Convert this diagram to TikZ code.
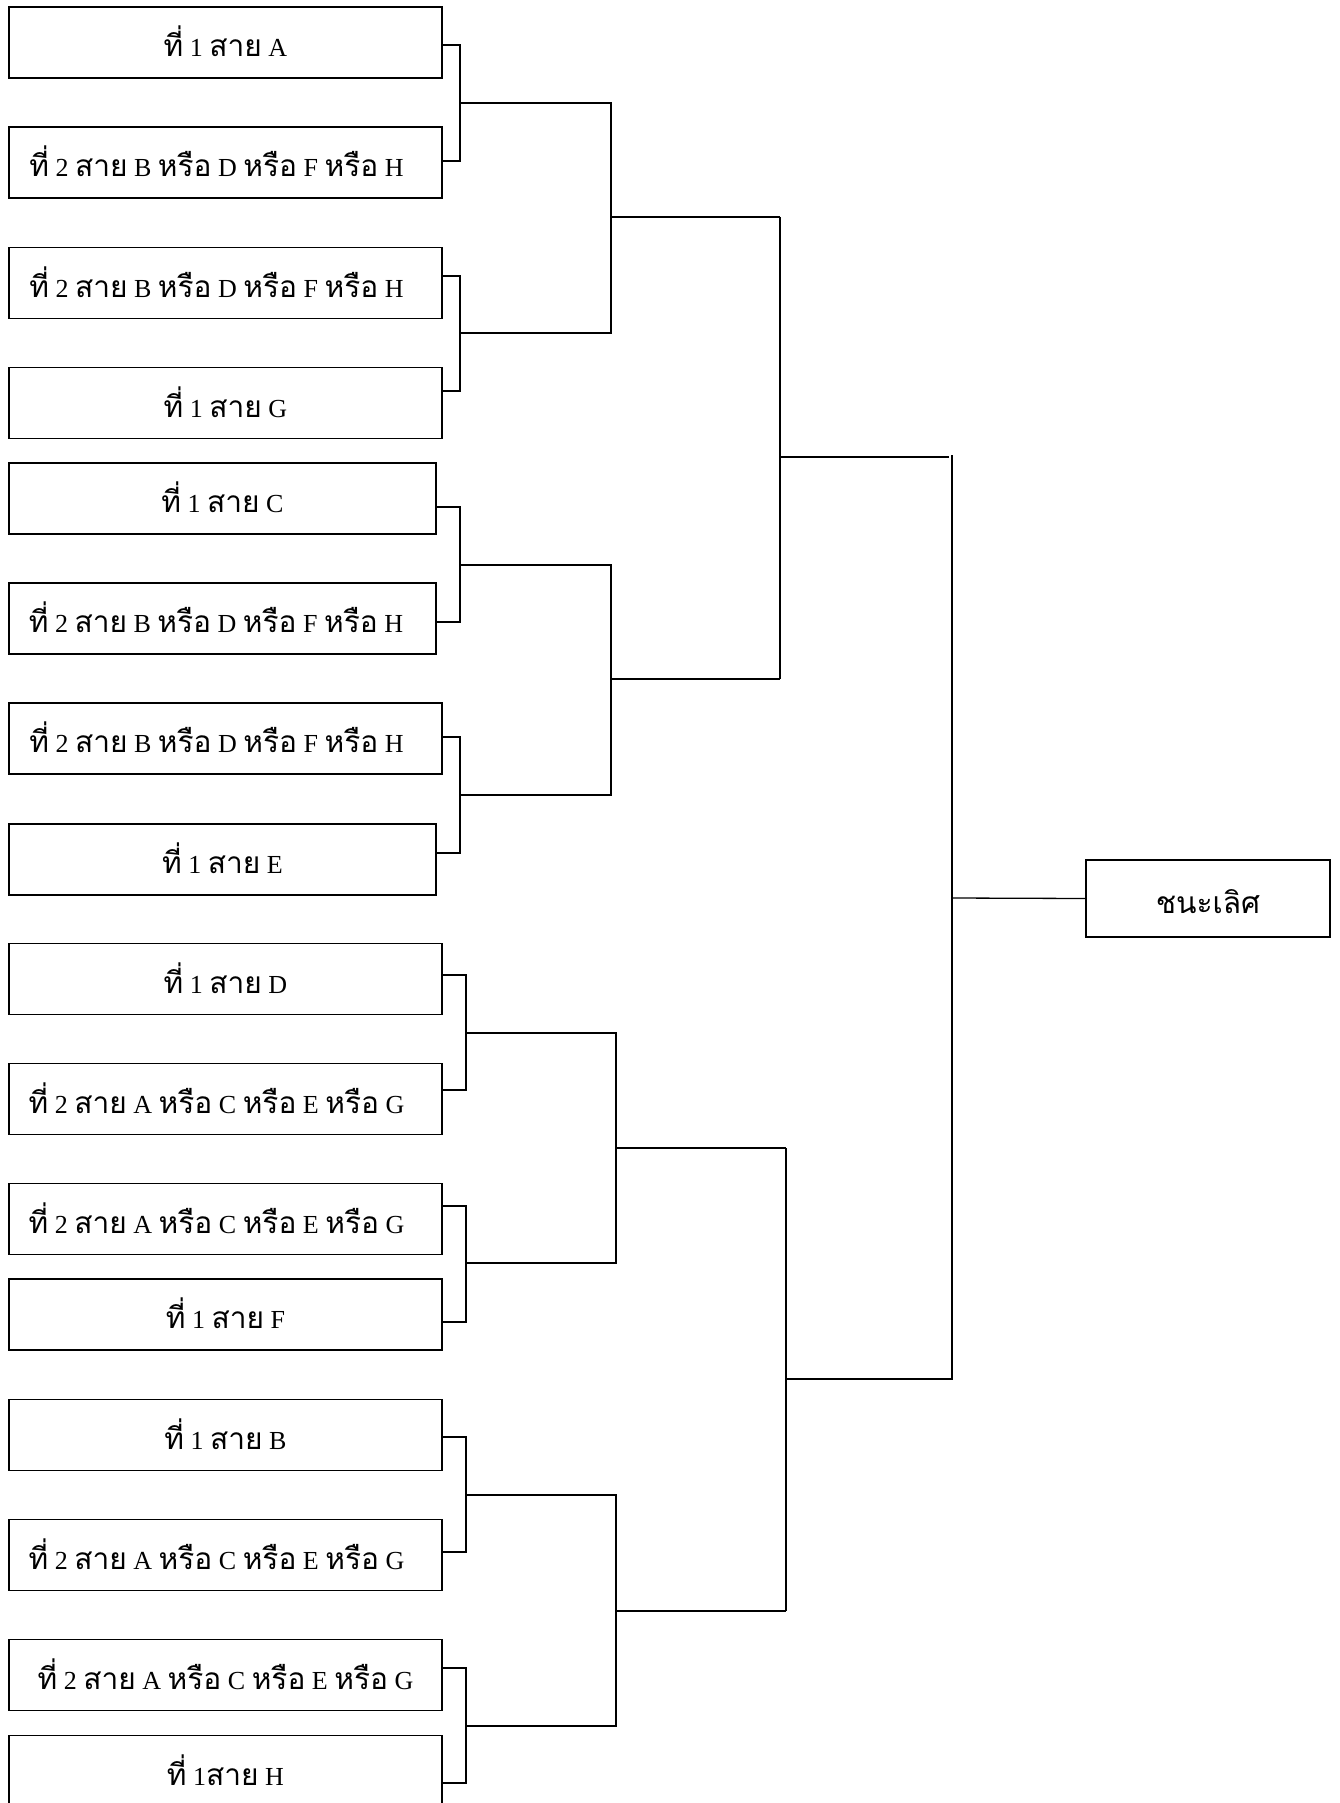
\documentclass[tikz,border=0pt]{standalone}
\usepackage{fontspec}
\setmainfont{Liberation Serif}
\newfontfamily\thai[Script=Thai,Scale=1.15]{Loma}
\newcommand\Pone[1]{{\thai ที่} 1 {\thai สาย} #1}
\newcommand\Ptwo[4]{{\thai ที่} 2 {\thai สาย} #1 {\thai หรือ} #2 {\thai หรือ} #3 {\thai หรือ} #4}
\begin{document}
\begin{tikzpicture}[x=1pt,y=-1pt,
  box/.style={draw, line width=1.5pt, minimum height=71pt, inner sep=0pt,
    text height=30pt, text depth=2pt, font=\fontsize{26}{30}\selectfont},
  wbox/.style={box, minimum width=433pt},
  nbox/.style={box, minimum width=427pt},
  wire/.style={line width=1.3pt}]
\useasboundingbox[fill=white] (0,0) rectangle (1340,1803);
% first round boxes
\node[wbox] (b1)  at (225.5,42.5)  {\Pone{A}};
\node[wbox] (b2)  at (225.5,162.5) {\Ptwo{B}{D}{F}{H}\kern18pt};
\node[wbox] (b3)  at (225.5,283)   {\Ptwo{B}{D}{F}{H}\kern18pt};
\node[wbox] (b4)  at (225.5,403)   {\Pone{G}};
\node[nbox] (b5)  at (222.5,498.5) {\Pone{C}};
\node[nbox] (b6)  at (222.5,618.5) {\Ptwo{B}{D}{F}{H}\kern13pt};
\node[wbox] (b7)  at (225.5,738.5) {\Ptwo{B}{D}{F}{H}\kern18pt};
\node[nbox] (b8)  at (222.5,859.5) {\Pone{E}};
\node[wbox] (b9)  at (225.5,979)   {\Pone{D}};
\node[wbox] (b10) at (225.5,1099)  {\Ptwo{A}{C}{E}{G}\kern18pt};
\node[wbox] (b11) at (225.5,1219)  {\Ptwo{A}{C}{E}{G}\kern18pt};
\node[wbox] (b12) at (225.5,1314.5){\Pone{F}};
\node[wbox] (b13) at (225.5,1435)  {\Pone{B}};
\node[wbox] (b14) at (225.5,1555)  {\Ptwo{A}{C}{E}{G}\kern18pt};
\node[wbox] (b15) at (225.5,1675)  {\Ptwo{A}{C}{E}{G}};
\node[wbox] (b16) at (225.5,1771)  {{\thai ที่} 1{\thai สาย} H};
% champion
\node[box, minimum width=244pt, minimum height=77pt, text height=32pt] (champ) at (1208,898.5) {\thai ชนะเลิศ};
% junction coordinates
\coordinate (j1) at (460,103);  \coordinate (j2) at (460,333);
\coordinate (j3) at (460,565);  \coordinate (j4) at (460,795);
\coordinate (j5) at (466,1033); \coordinate (j6) at (466,1263);
\coordinate (j7) at (466,1495); \coordinate (j8) at (466,1726);
\coordinate (k1) at (611,103);  \coordinate (k2) at (611,333);
\coordinate (k3) at (611,565);  \coordinate (k4) at (611,795);
\coordinate (k5) at (616,1033); \coordinate (k6) at (616,1263);
\coordinate (k7) at (616,1495); \coordinate (k8) at (616,1726);
\coordinate (m1) at (611,217);  \coordinate (n1) at (780,217);
\coordinate (m2) at (611,679);  \coordinate (n2) at (780,679);
\coordinate (m3) at (616,1148); \coordinate (n3) at (786,1148);
\coordinate (m4) at (616,1611); \coordinate (n4) at (786,1611);
\coordinate (o1) at (780,457);  \coordinate (p1) at (949,457);
\coordinate (o2) at (786,1379); \coordinate (p2) at (953,1379);
\coordinate (f1) at (952,455);  \coordinate (f2) at (952,1379);
\coordinate (f3) at (952,898);
% round 1 brackets
\draw[wire] ([yshift=-2.5pt]b1.east) -| (j1) |- ([yshift=1.5pt]b2.east);
\draw[wire] ([yshift=7pt]b3.east) -| (j2) |- ([yshift=12pt]b4.east);
\draw[wire] ([yshift=-8.5pt]b5.east) -| (j3) |- ([yshift=-3.5pt]b6.east);
\draw[wire] ([yshift=1.5pt]b7.east) -| (j4) |- ([yshift=6.5pt]b8.east);
\draw[wire] ([yshift=4pt]b9.east) -| (j5) |- ([yshift=9pt]b10.east);
\draw[wire] ([yshift=13pt]b11.east) -| (j6) |- ([yshift=-7.5pt]b12.east);
\draw[wire] ([yshift=-2pt]b13.east) -| (j7) |- ([yshift=3pt]b14.east);
\draw[wire] ([yshift=7pt]b15.east) -| (j8) |- ([yshift=-12pt]b16.east);
% round 2
\draw[wire] (j1) -- (k1) -- (k2) -- (j2);
\draw[wire] (j3) -- (k3) -- (k4) -- (j4);
\draw[wire] (j5) -- (k5) -- (k6) -- (j6);
\draw[wire] (j7) -- (k7) -- (k8) -- (j8);
\draw[wire] (m1) -- (n1);
\draw[wire] (m2) -- (n2);
\draw[wire] (m3) -- (n3);
\draw[wire] (m4) -- (n4);
% round 3
\draw[wire] (n1) -- (n2);
\draw[wire] (n3) -- (n4);
\draw[wire] (o1) -- (p1);
\draw[wire] (o2) -- (p2);
% final
\draw[wire] (f1) -- (f2);
\draw[wire] (f3) -- (champ.west);
\end{tikzpicture}
\end{document}
